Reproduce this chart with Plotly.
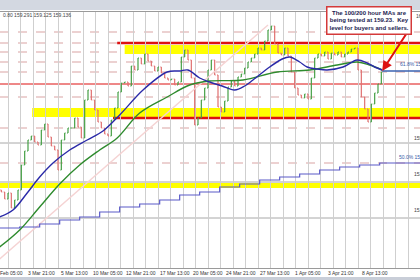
import plotly.graph_objects as go

# ---------------- data ----------------
bar_index = list(range(-8, 452, 4))
closes = [153.13,152.78,153.08,152.33,152.73,153.23,154.48,155.18,155.73,155.93,
          155.63,155.48,156.23,156.53,155.88,155.43,155.23,154.23,155.73,156.08,
          156.33,156.33,156.83,156.38,155.83,157.73,158.23,157.73,157.23,156.63,
          156.33,156.03,155.93,156.73,157.33,158.13,158.58,158.63,158.43,159.43,
          159.23,159.83,159.53,160.03,159.68,159.43,159.18,159.38,159.08,158.83,
          158.73,158.78,158.48,158.63,159.88,160.23,159.73,158.83,156.48,156.83,
          157.73,158.33,159.23,159.73,158.98,157.38,157.13,157.68,158.38,158.68,
          158.43,158.88,159.03,159.33,159.63,159.83,160.03,160.33,160.23,160.68,
          161.23,161.43,160.53,160.08,159.98,160.33,159.93,159.13,158.33,157.98,
          157.83,158.03,157.78,158.83,159.83,160.03,159.93,160.13,159.78,160.08,
          159.98,160.13,159.88,160.03,160.13,160.28,160.33,159.23,157.88,157.28,
          156.63,157.53,158.08,158.53,159.13]

ma100_h = [-10, 6, 23, 38, 54, 74, 95, 114, 134, 162, 191, 206, 216, 230, 242, 257,
           272, 284, 294, 314, 329, 338, 350, 359, 371, 383, 402, 419, 431, 440, 449]
ma100_p = [151.88, 152.23, 153.08, 153.88, 154.58, 155.23, 155.73, 156.18, 156.98, 158.23,
           159.13, 159.18, 159.23, 158.83, 158.63, 158.43, 158.23, 158.43, 158.73, 159.38,
           159.78, 159.88, 159.63, 159.38, 159.28, 159.23, 159.38, 159.73, 159.58, 159.38, 159.23]

ma200_h = [-10, 14, 38, 62, 86, 110, 131, 158, 191, 218, 242, 282, 323, 362, 395, 419, 434, 449]
ma200_p = [150.38, 151.23, 152.38, 153.53, 154.48, 155.23, 155.83, 157.08, 157.88, 158.48,
           158.68, 158.73, 159.13, 159.23, 159.48, 159.63, 159.48, 159.23]

daily_h = [-10, 14, 38, 62, 86, 110, 134, 158, 182, 206, 230, 254, 278, 302, 326, 350,
           374, 398, 422, 446, 495]
daily_p = [151.33, 151.38, 151.53, 151.73, 151.88, 152.13, 152.38, 152.53, 152.73, 152.98,
           153.13, 153.38, 153.53, 153.73, 153.88, 154.03, 154.23, 154.38, 154.48, 154.58, 154.58]

ma_level_h = [449, 495]
ma_level_p = [159.18, 159.18]

trend_h = [-10, 312]
trend_p = [149.78, 161.48]

fib_levels = [161.13, 160.58, 160.13, 159.63, 159.13, 157.88, 156.33, 154.58, 153.48]
grid_levels = [155.58, 153.63, 151.83]

zone_start = [140, 29, -10]
zone_low = [160.03, 156.88, 153.33]
zone_high = [160.48, 157.33, 153.58]

red_start = [131, -10, 126]
red_levels = [160.58, 158.53, 156.83]

date_ticks = [0, 40, 80, 120, 160, 200, 240, 280, 320, 360, 400, 440]
date_labels = ["28 Feb 05:00", "3 Mar 21:00", "5 Mar 13:00", "10 Mar 05:00", "12 Mar 21:00",
               "17 Mar 13:00", "20 Mar 05:00", "24 Mar 21:00", "27 Mar 13:00", "1 Apr 05:00",
               "3 Apr 21:00", "8 Apr 13:00"]

price_labels = ["161.58", "61.8% 159.230", "155.58", "50.0% 154.580", "153.78", "151.98"]
price_label_vals = [161.68, 159.28, 155.58, 154.63, 153.78, 151.98]

header_text = "0.80 159.291 159.125 159.136"
note_text = "The 100/200 hour MAs are<br>being tested at 159.23.  Key<br>level for buyers and sellers."

# ---------------- figure ----------------
X0, X1 = -9.6, 494.4
Y0, Y1 = 149.33, 162.13

opens = [closes[0] + 0.1] + closes[:-1]
highs = [max(o, c) for o, c in zip(opens, closes)]
lows = [min(o, c) for o, c in zip(opens, closes)]

fig = go.Figure()

fig.add_trace(go.Scatter(x=trend_h, y=trend_p, mode="lines",
                         line=dict(color="#f5d3d3", width=1.5), hoverinfo="skip"))
fig.add_trace(go.Scatter(x=daily_h, y=daily_p, mode="lines", line_shape="hv",
                         line=dict(color="#5a5ac8", width=1.2), hoverinfo="skip"))
fig.add_trace(go.Ohlc(x=bar_index, open=opens, high=highs, low=lows, close=closes,
                      increasing=dict(line=dict(color="#46a046", width=1.2)),
                      decreasing=dict(line=dict(color="#e07070", width=1.2)),
                      tickwidth=0.3, hoverinfo="skip"))
fig.add_trace(go.Scatter(x=ma200_h, y=ma200_p, mode="lines", line_shape="spline",
                         line=dict(color="#2e8b2e", width=1.4), hoverinfo="skip"))
fig.add_trace(go.Scatter(x=ma100_h, y=ma100_p, mode="lines", line_shape="spline",
                         line=dict(color="#2a2aa8", width=1.4), hoverinfo="skip"))
fig.add_trace(go.Scatter(x=ma_level_h, y=ma_level_p, mode="lines",
                         line=dict(color="#3a62b0", width=1.5), hoverinfo="skip"))

shapes = []
for lv in grid_levels:
    shapes.append(dict(type="line", xref="paper", x0=0, x1=1, yref="y", y0=lv, y1=lv,
                       line=dict(color="#a8a8a8", width=1), layer="below"))
for lv in fib_levels:
    shapes.append(dict(type="line", xref="paper", x0=0, x1=1, yref="y", y0=lv, y1=lv,
                       line=dict(color="#d9a3a3", width=1, dash="dash"), layer="below"))
for xs, lo, hi in zip(zone_start, zone_low, zone_high):
    shapes.append(dict(type="rect", xref="x", x0=xs, x1=X1, yref="y", y0=lo, y1=hi,
                       fillcolor="#ffff00", line=dict(width=0), layer="below"))
red_widths = [2.5, 1, 2.5]
for xs, lv, w in zip(red_start, red_levels, red_widths):
    shapes.append(dict(type="line", xref="x", x0=xs, x1=X1, yref="y", y0=lv, y1=lv,
                       line=dict(color="#dd1111", width=w), layer="below"))
# window bars
shapes.append(dict(type="rect", xref="paper", x0=0, x1=1, yref="paper",
                   y0=1 + 2 / 256, y1=1 + 12 / 256, fillcolor="#d3d8e1", line=dict(width=0)))
shapes.append(dict(type="rect", xref="paper", x0=0, x1=1, yref="paper",
                   y0=-12 / 256, y1=-9 / 256, fillcolor="#c9ced8", line=dict(width=0)))

annotations = []
for t, lab in zip(date_ticks, date_labels):
    annotations.append(dict(x=t, xref="x", y=-5 / 256, yref="paper", text=lab,
                            showarrow=False, xanchor="center", yanchor="middle",
                            font=dict(size=5, color="#333333")))
label_x = [414, 398, 412, 397, 412, 412]
label_col = ["#444444", "#3a5aa8", "#444444", "#3a5aa8", "#444444", "#444444"]
for lab, val, lx, col in zip(price_labels, price_label_vals, label_x, label_col):
    annotations.append(dict(x=lx / 420, xref="paper", y=val, yref="y", text=lab,
                            showarrow=False, xanchor="left", yanchor="bottom",
                            font=dict(size=5, color=col)))
annotations.append(dict(x=0.003, xref="paper", y=1 - 3 / 256, yref="paper", text=header_text,
                        showarrow=False, xanchor="left", yanchor="middle",
                        font=dict(size=5, color="#444444")))
annotations.append(dict(x=449, xref="x", y=159.18, yref="y", text="", showarrow=True,
                        ax=26, ay=-40, arrowhead=2, arrowsize=1, arrowwidth=2,
                        arrowcolor="#dd1111"))
annotations.append(dict(x=368.5 / 420, xref="paper", y=1 - 8 / 256, yref="paper",
                        text="<b>" + note_text + "</b>", showarrow=False,
                        xanchor="center", yanchor="middle", align="center",
                        font=dict(size=6, color="#1c1c50", family="Liberation Sans, Arial"),
                        bgcolor="#ffffff", bordercolor="#d43a3a", borderwidth=1.5, borderpad=2))

fig.update_layout(
    width=420, height=280, margin=dict(l=0, r=0, t=12, b=12),
    paper_bgcolor="#ffffff", plot_bgcolor="#ffffff", showlegend=False,
    shapes=shapes, annotations=annotations,
    font=dict(family="Liberation Sans, Arial"),
    xaxis=dict(range=[X0, X1], showgrid=True, gridcolor="#cfcfcf", gridwidth=1,
               tick0=0, dtick=15, showticklabels=False, ticks="", zeroline=False,
               rangeslider=dict(visible=False), showline=True, mirror=True,
               linecolor="#9a9a9a", linewidth=1),
    yaxis=dict(range=[Y0, Y1], showgrid=False, showticklabels=False, ticks="",
               zeroline=False, showline=False),
)

fig.write_html("out.html")
